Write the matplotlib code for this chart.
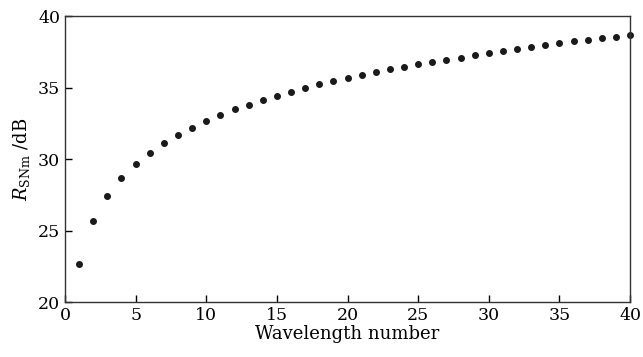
import numpy as np
import matplotlib
matplotlib.use("Agg")
import matplotlib.pyplot as plt

# wavelength index and signal-to-noise ratio
wavelength = np.arange(1, 41)
r_snm = [22.67, 25.68, 27.42, 28.70, 29.65, 30.44, 31.11, 31.67, 32.18, 32.67,
         33.06, 33.48, 33.78, 34.13, 34.41, 34.69, 34.97, 35.22, 35.45, 35.66,
         35.89, 36.08, 36.29, 36.43, 36.64, 36.80, 36.96, 37.10, 37.29, 37.42,
         37.56, 37.70, 37.82, 37.96, 38.10, 38.24, 38.35, 38.47, 38.56, 38.68]

xticks = [0, 5, 10, 15, 20, 25, 30, 35, 40]
yticks = [20, 25, 30, 35, 40]

plt.rcParams['font.family'] = 'DejaVu Serif'
plt.rcParams['mathtext.fontset'] = 'dejavuserif'

fig = plt.figure(figsize=(6.43, 3.57), dpi=100)
ax = fig.add_axes([0.101, 0.154, 0.879, 0.801])

ax.plot(wavelength, r_snm, 'o', color='#1a1a1a', markersize=4, clip_on=False)

ax.set_xlim(0, 40)
ax.set_ylim(20, 40)
ax.set_xticks(xticks)
ax.set_yticks(yticks)
ax.tick_params(direction='in', length=5, width=1, labelsize=12.5, top=False, right=False)
for s in ax.spines.values():
    s.set_linewidth(1)
    s.set_color('#333333')

ax.set_xlabel('Wavelength number', fontsize=13, labelpad=1)
ax.set_ylabel(r'$R_{\rm SNm}$ /dB', fontsize=13, labelpad=4)

fig.savefig('out.png', dpi=100)
